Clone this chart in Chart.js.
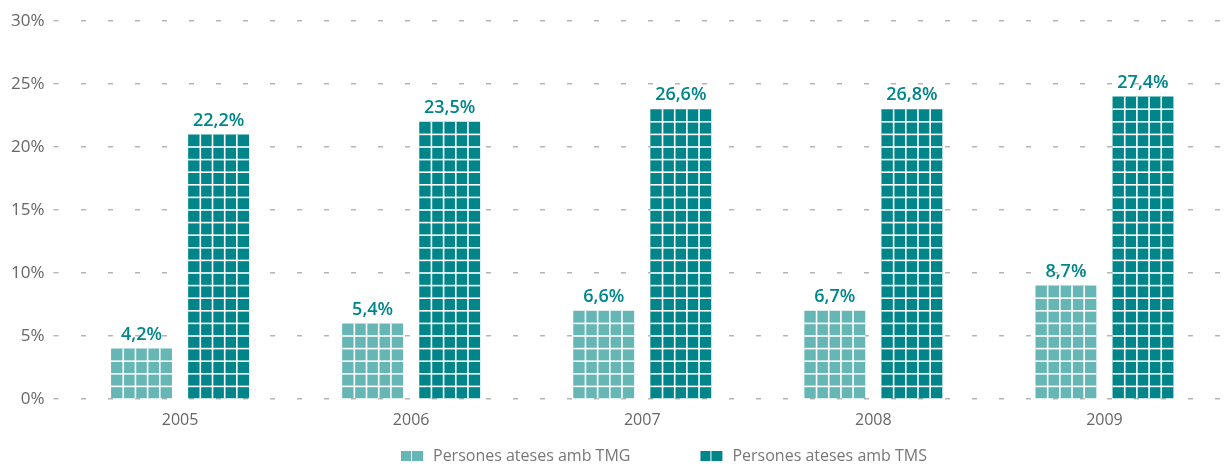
<!DOCTYPE html>
<html>
<head>
<meta charset="utf-8">
<script src="https://cdn.jsdelivr.net/npm/chart.js@4"></script>
<style>
  html, body { margin: 0; padding: 0; background: #fff; }
  #wrap { width: 1228px; height: 467px; }
</style>
</head>
<body>
<div id="wrap"><canvas id="chart" width="1228" height="467"></canvas></div>
<script>
// years on the x axis
const years = ["2005", "2006", "2007", "2008", "2009"];
// bar heights as drawn (each white-lined cell = 1 point)
const tmgBars = [4, 6, 7, 7, 9];
const tmsBars = [21, 22, 23, 23, 24];
// values printed above the bars
const tmgLabels = ["4,2%", "5,4%", "6,6%", "6,7%", "8,7%"];
const tmsLabels = ["22,2%", "23,5%", "26,6%", "26,8%", "27,4%"];
const seriesNames = ["Persones ateses amb TMG", "Persones ateses amb TMS"];
const yTicks = [0, 5, 10, 15, 20, 25, 30];

const LIGHT = "#67b6b6";
const DARK = "#00868a";
const FONT = "'Open Sans', 'DejaVu Sans', sans-serif";

// white cell lines + value labels on top of every bar
const cellsPlugin = {
  id: "cells",
  afterDatasetsDraw(chart) {
    const ctx = chart.ctx;
    const yScale = chart.scales.y;
    const texts = [tmgLabels, tmsLabels];
    chart.data.datasets.forEach((ds, di) => {
      const meta = chart.getDatasetMeta(di);
      meta.data.forEach((bar, i) => {
        const left = bar.x - bar.width / 2;
        const h = bar.base - bar.y;
        ctx.save();
        ctx.fillStyle = "#fff";
        for (let v = 1; v < ds.data[i]; v++) {
          const yy = yScale.getPixelForValue(v);
          ctx.fillRect(left, yy - 0.8, bar.width, 1.6);
        }
        for (let k = 1; k < 5; k++) {
          const xx = left + (bar.width * k) / 5;
          ctx.fillRect(xx - 0.8, bar.y, 1.6, h);
        }
        ctx.fillStyle = DARK;
        ctx.font = "600 18px " + FONT;
        ctx.textAlign = "center";
        ctx.textBaseline = "bottom";
        ctx.fillText(texts[di][i], bar.x, bar.y - 5);
        ctx.restore();
      });
    });
  },
  afterDraw(chart) {
    // legend: split square marker + label
    const ctx = chart.ctx;
    ctx.save();
    ctx.font = "16px " + FONT;
    const w0 = ctx.measureText(seriesNames[0]).width;
    const w1 = ctx.measureText(seriesNames[1]).width;
    const box = 22, gap = 10, between = 70;
    const total = box + gap + w0 + between + box + gap + w1;
    let x = 664 - total / 2;
    const y = 456;
    const cols = [LIGHT, DARK];
    [w0, w1].forEach((w, i) => {
      ctx.fillStyle = cols[i];
      ctx.fillRect(x, y - 5, 10, 10);
      ctx.fillRect(x + 11, y - 5, 11, 10);
      ctx.fillStyle = "#777";
      ctx.textAlign = "left";
      ctx.textBaseline = "middle";
      ctx.fillText(seriesNames[i], x + box + gap, y);
      x += box + gap + w + between;
    });
    ctx.restore();
  }
};

new Chart(document.getElementById("chart"), {
  type: "bar",
  data: {
    labels: years,
    datasets: [
      { label: seriesNames[0], data: tmgBars, backgroundColor: LIGHT },
      { label: seriesNames[1], data: tmsBars, backgroundColor: DARK }
    ]
  },
  options: {
    responsive: false,
    animation: false,
    devicePixelRatio: 1,
    layout: { padding: { top: 21, right: 8, bottom: 32, left: 0 } },
    categoryPercentage: 0.667,
    barPercentage: 0.79,
    plugins: {
      legend: { display: false },
      tooltip: { enabled: false }
    },
    scales: {
      x: {
        grid: { display: false, drawTicks: false },
        border: { display: false },
        ticks: { color: "#666", padding: 12, font: { family: FONT, size: 16 } },
        afterFit: (s) => { s.height = 36; }
      },
      y: {
        min: 0,
        max: 30,
        afterBuildTicks: (s) => { s.ticks = yTicks.map((v) => ({ value: v })); },
        border: { display: false, dash: [5, 22], dashOffset: 11 },
        grid: {
          color: "#b5b5b5",
          lineWidth: 1.4,
          drawTicks: true,
          tickLength: 11,
          tickColor: "#b5b5b5",
          tickBorderDash: [5, 22]
        },
        ticks: {
          color: "#666",
          padding: 9,
          font: { family: FONT, size: 17 },
          callback: (v) => v + "%"
        },
        afterFit: (s) => { s.width = 64.5; }
      }
    }
  },
  plugins: [cellsPlugin]
});
</script>
</body>
</html>
